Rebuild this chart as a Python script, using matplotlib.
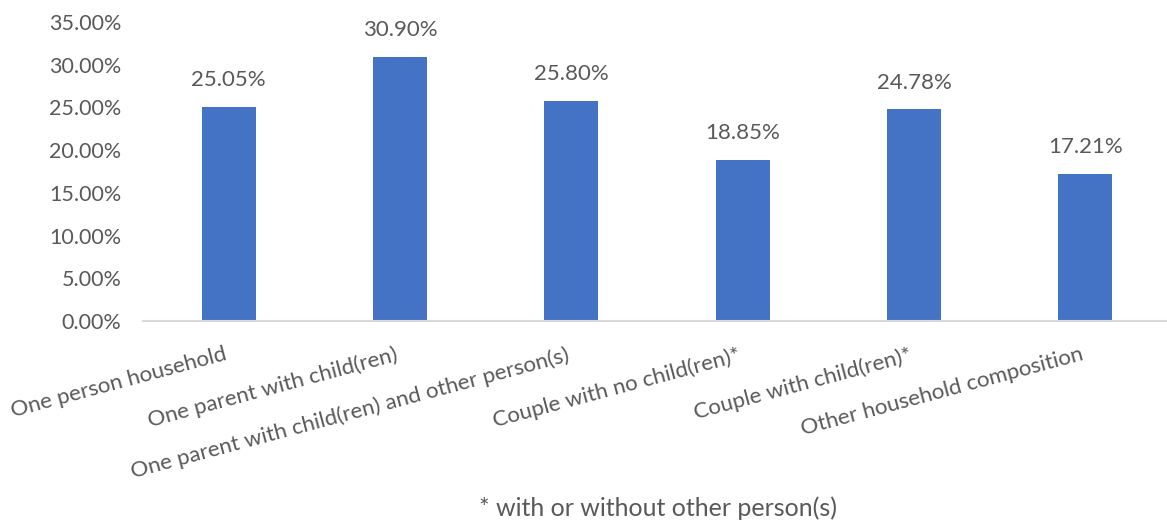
import matplotlib
matplotlib.use("Agg")
import matplotlib.pyplot as plt
import matplotlib.transforms as mtransforms
from matplotlib.ticker import FuncFormatter, MultipleLocator

categories = ["One person household", "One parent with child(ren)",
              "One parent with child(ren) and other person(s)",
              "Couple with no child(ren)*", "Couple with child(ren)*",
              "Other household composition"]
values = [25.05, 30.90, 25.80, 18.85, 24.78, 17.21]
footnote = "* with or without other person(s)"

plt.rcParams['font.family'] = ['Lato', 'DejaVu Sans']
txt = '#595959'
fig = plt.figure(figsize=(11.67, 5.25), dpi=100)
ax = fig.add_axes([143/1167, 1-321/525, (1171-143)/1167, (321-22)/525])
x = list(range(len(categories)))
bars = ax.bar(x, values, width=0.315, color='#4472C4')
ax.set_xlim(-0.5, len(categories)-0.5)
ax.set_ylim(0, 35)
ax.yaxis.set_major_locator(MultipleLocator(5))
ax.yaxis.set_major_formatter(FuncFormatter(lambda v, p: f"{v:.2f}%"))
for s in ['top', 'right', 'left']:
    ax.spines[s].set_visible(False)
ax.spines['bottom'].set_color('#D9D9D9')
ax.spines['bottom'].set_linewidth(1.5)
ax.tick_params(axis='both', length=0, colors=txt, labelsize=16)
ax.tick_params(axis='y', pad=15.5, labelsize=15.5)
ax.set_xticks(x)
ax.set_xticklabels(categories, rotation=15, ha='right', rotation_mode='anchor', fontsize=16, color=txt)
ax.tick_params(axis='x', pad=17)
off = mtransforms.ScaledTranslation(-5/100, 0, fig.dpi_scale_trans)
for lab in ax.get_xticklabels():
    lab.set_transform(lab.get_transform() + off)
for xi, v in zip(x, values):
    ax.annotate(f"{v:.2f}%", (xi, v), xytext=(0, 12), textcoords='offset points',
                ha='center', va='bottom', fontsize=16, color=txt)
fig.text(658/1167, 1-508/525, footnote, ha='center', va='center', fontsize=18, color=txt)
fig.savefig('out.png', dpi=100)
